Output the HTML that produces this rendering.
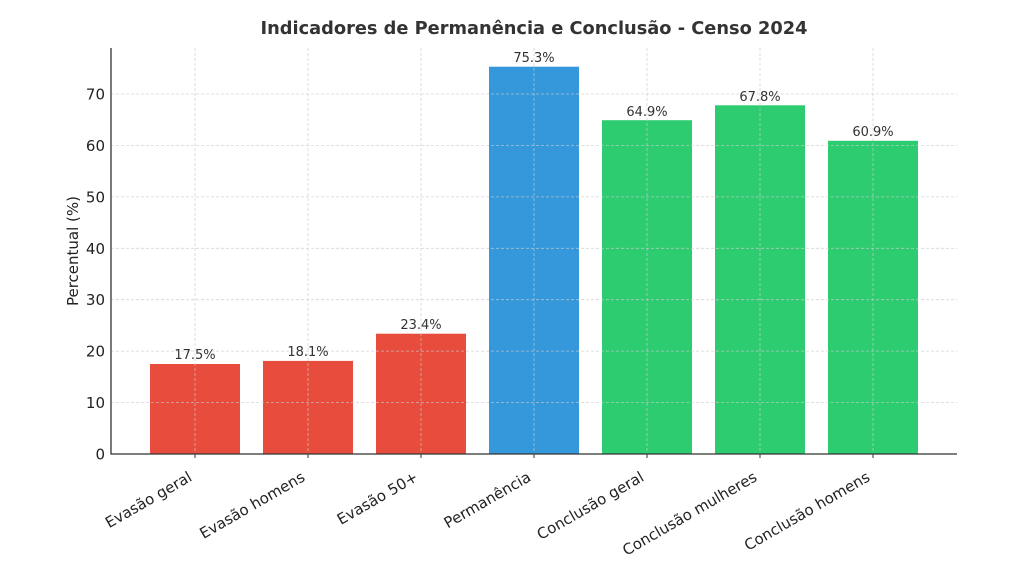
<!DOCTYPE html>
<html><head><meta charset="utf-8"><style>body{margin:0;background:#fff}svg{display:block}</style></head><body>
<svg width="1024" height="576" xmlns="http://www.w3.org/2000/svg" font-family="DejaVu Sans, Liberation Sans, sans-serif">
<rect width="1024" height="576" fill="#fff"/>
<text x="534" y="34" text-anchor="middle" font-size="17.8" font-weight="bold" fill="#333">Indicadores de Permanência e Conclusão - Censo 2024</text>
<g fill="#e74c3c">
<rect x="150" y="364" width="90" height="90"/>
<rect x="263" y="360.9" width="90" height="93.1"/>
<rect x="376" y="333.7" width="90" height="120.3"/>
</g>
<rect x="489" y="66.7" width="90" height="387.3" fill="#3498db"/>
<g fill="#2ecc71">
<rect x="602" y="120.2" width="90" height="333.8"/>
<rect x="715" y="105.3" width="90" height="348.7"/>
<rect x="828" y="140.8" width="90" height="313.2"/>
</g>
<g stroke="#ccc" stroke-width="0.8" stroke-dasharray="3,2" opacity="0.8">
<line x1="111" x2="957" y1="402.6" y2="402.6"/><line x1="111" x2="957" y1="351.1" y2="351.1"/>
<line x1="111" x2="957" y1="299.7" y2="299.7"/><line x1="111" x2="957" y1="248.3" y2="248.3"/>
<line x1="111" x2="957" y1="196.9" y2="196.9"/><line x1="111" x2="957" y1="145.4" y2="145.4"/>
<line x1="111" x2="957" y1="94" y2="94"/>
<line x1="195" x2="195" y1="48" y2="454"/><line x1="308" x2="308" y1="48" y2="454"/>
<line x1="421" x2="421" y1="48" y2="454"/><line x1="534" x2="534" y1="48" y2="454"/>
<line x1="647" x2="647" y1="48" y2="454"/><line x1="760" x2="760" y1="48" y2="454"/>
<line x1="873" x2="873" y1="48" y2="454"/>
</g>
<line x1="111" x2="111" y1="48" y2="454.5" stroke="#333" stroke-width="1.3"/>
<line x1="110.5" x2="957" y1="454" y2="454" stroke="#333" stroke-width="1.3"/>
<g stroke="#333" stroke-width="1">
<line x1="195" x2="195" y1="454" y2="458"/><line x1="308" x2="308" y1="454" y2="458"/>
<line x1="421" x2="421" y1="454" y2="458"/><line x1="534" x2="534" y1="454" y2="458"/>
<line x1="647" x2="647" y1="454" y2="458"/><line x1="760" x2="760" y1="454" y2="458"/>
<line x1="873" x2="873" y1="454" y2="458"/>
</g>
<g font-size="15" fill="#222" text-anchor="end">
<text x="105" y="459.5">0</text><text x="105" y="408">10</text><text x="105" y="356.5">20</text>
<text x="105" y="305">30</text><text x="105" y="254">40</text><text x="105" y="202.5">50</text>
<text x="105" y="151">60</text><text x="105" y="99.5">70</text>
</g>
<text transform="translate(78,251) rotate(-90)" text-anchor="middle" font-size="15" fill="#222">Percentual (%)</text>
<g font-size="13" fill="#333" text-anchor="middle">
<text x="195" y="359">17.5%</text><text x="308" y="356">18.1%</text><text x="421" y="329">23.4%</text>
<text x="534" y="62">75.3%</text><text x="647" y="116">64.9%</text><text x="760" y="101">67.8%</text>
<text x="873" y="136">60.9%</text>
</g>
<g font-size="15" fill="#222" text-anchor="end">
<text transform="translate(193,480) rotate(-30)">Evasão geral</text>
<text transform="translate(306,480) rotate(-30)">Evasão homens</text>
<text transform="translate(419,480) rotate(-30)">Evasão 50+</text>
<text transform="translate(532,480) rotate(-30)">Permanência</text>
<text transform="translate(645,480) rotate(-30)">Conclusão geral</text>
<text transform="translate(758,480) rotate(-30)">Conclusão mulheres</text>
<text transform="translate(871,480) rotate(-30)">Conclusão homens</text>
</g>
</svg>
</body></html>
